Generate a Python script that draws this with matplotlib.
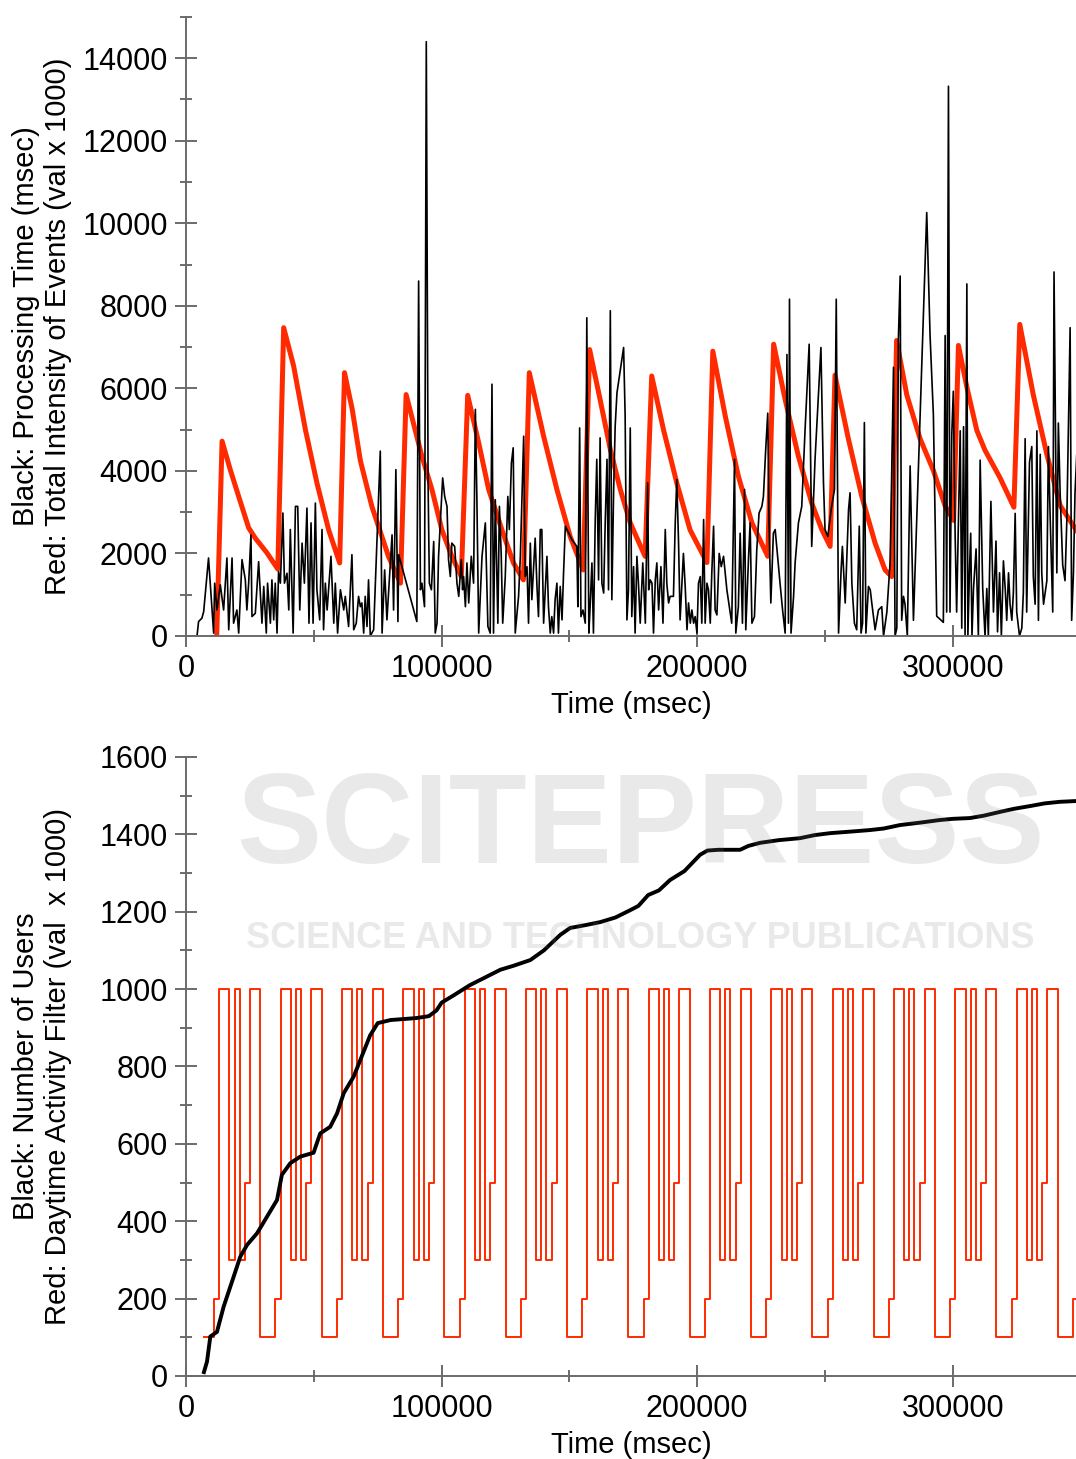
import numpy as np
import matplotlib.pyplot as plt
from matplotlib.ticker import MultipleLocator

plt.rcParams['font.family'] = ['Liberation Sans', 'DejaVu Sans']

# ---- top chart: processing time (black) and intensity of events (red) ----
proc_time = [
    0, 4300, 4900, 6200, 6900, 8800, 10800, 11200, 12100, 13400,
    14700, 16000, 16700, 18000, 18600, 19900, 20600, 21900, 23200, 23800,
    24500, 25400, 25800, 27100, 28400, 29700, 30400, 31400, 31900, 33000,
    33600, 34300, 34900, 35600, 36200, 36900, 37900, 38500, 39500, 40200,
    40800, 41900, 42800, 43700, 44500, 45400, 46300, 47300, 48100, 48900,
    49700, 50600, 51200, 52300, 53200, 53800, 54500, 55200, 56700, 57800,
    58400, 59300, 60400, 61700, 62300, 63600, 64900, 65600, 66600, 67500,
    68200, 68800, 69500, 70100, 70800, 71400, 72100, 73400, 76000, 76700,
    77700, 78600, 79300, 80600, 81200, 82100, 82900, 83200, 90300, 91000,
    91700, 92300, 93300, 94000, 94700, 95200, 96000, 96900, 97500, 98200,
    98800, 99500, 100400, 101200, 102100, 102700, 103400, 104000, 105100, 106000,
    106700, 107700, 108200, 108600, 109300, 109900, 110600, 111600, 112500, 113200,
    113800, 114500, 115800, 117100, 118100, 119000, 119700, 120300, 121000, 122000,
    122600, 123300, 123900, 124900, 125900, 126500, 127300, 128000, 128800, 130100,
    130800, 132100, 132700, 133400, 134000, 134700, 135300, 136600, 137300, 137900,
    138600, 139200, 139900, 140500, 141200, 141800, 142500, 143100, 143800, 144400,
    145100, 145700, 146400, 147100, 147700, 148400, 151000, 152900, 153300, 154000,
    154500, 155300, 156200, 156800, 157600, 158100, 158800, 159400, 160100, 160700,
    161400, 162000, 162700, 163400, 164000, 164700, 165300, 166000, 166600, 167300,
    167900, 168600, 171200, 171800, 172500, 173100, 173800, 174400, 175100, 175700,
    176400, 177000, 177700, 178700, 179700, 180600, 181000, 181600, 182300, 182900,
    183600, 184200, 184900, 185800, 186600, 187500, 188100, 188800, 189400, 190700,
    191400, 192000, 192700, 193300, 194600, 195300, 196000, 196600, 197300, 197900,
    198600, 199200, 199900, 200500, 201200, 201800, 202500, 203100, 203800, 204400,
    205100, 205700, 206400, 207000, 207700, 208600, 209400, 210300, 211600, 213500,
    214600, 215100, 216100, 216800, 217700, 218500, 219000, 220100, 220700, 221400,
    222400, 223300, 224200, 225300, 225900, 226800, 227600, 228100, 228800, 229800,
    230500, 232400, 233400, 234400, 235100, 235700, 236100, 236700, 237700, 238300,
    239600, 240900, 242200, 243800, 244800, 246100, 248400, 249400, 250000, 251100,
    252400, 253700, 254400, 255300, 256300, 256800, 257900, 259200, 259800, 260500,
    261500, 262400, 263400, 264100, 264700, 265400, 266000, 267000, 267700, 268300,
    269600, 270900, 272200, 272900, 274200, 275500, 276800, 277400, 278100, 278700,
    279400, 280000, 280700, 281300, 282200, 283300, 284600, 289800, 291100, 292400,
    293700, 296300, 297000, 297600, 298300, 298900, 299600, 300200, 300900, 301500,
    302900, 303500, 304200, 304800, 305500, 305900, 306500, 307000, 307500, 308100,
    309100, 310000, 310700, 311700, 312600, 313300, 313900, 314900, 315900, 316900,
    317500, 318300, 319000, 319800, 320500, 321100, 321800, 322400, 323100, 323700,
    324400, 325000, 326100, 327000, 327600, 328300, 328900, 330000, 330900, 331500,
    332200, 332900, 333500, 334200, 334800, 335500, 336800, 337400, 338100, 339100,
    339600, 340700, 341300, 342000, 343000, 343900, 344600, 345900, 346500, 347200,
    347800, 348500, 350000,
]
proc_msec = [
    0, 0, 350, 430, 590, 1890, 70, 1280, 630, 1240,
    630, 1890, 150, 1890, 310, 630, 70, 1850, 1360, 630,
    1280, 2450, 470, 550, 1800, 310, 1200, 70, 1280, 310,
    1360, 390, 1280, 70, 1560, 1280, 2980, 1280, 1520, 630,
    2580, 70, 3140, 3140, 630, 2250, 1280, 3100, 310, 2740,
    310, 3220, 1120, 390, 2580, 150, 1280, 630, 1930, 310,
    1280, 70, 1120, 630, 960, 230, 1970, 150, 310, 960,
    710, 800, 70, 960, 230, 1360, 0, 150, 4480, 70,
    1600, 390, 1120, 2450, 630, 4030, 350, 1970, 350, 8600,
    1120, 1280, 710, 14400, 3700, 1280, 1120, 2290, 70, 310,
    1930, 2740, 3830, 3380, 3140, 1850, 1440, 2250, 2170, 1280,
    960, 1850, 1120, 1440, 710, 1770, 800, 1930, 1280, 5490,
    3300, 70, 1930, 2740, 230, 70, 6100, 70, 3300, 310,
    3140, 2000, 310, 1440, 3380, 2580, 4190, 4560, 70, 960,
    1930, 4840, 1440, 1680, 310, 2250, 880, 2370, 1200, 470,
    2580, 2580, 310, 1040, 1930, 710, 70, 470, 70, 880,
    1280, 70, 1200, 390, 1520, 2660, 2330, 2170, 710, 5040,
    470, 630, 310, 7710, 70, 710, 1770, 70, 2820, 4280,
    1360, 4800, 1280, 1040, 2740, 4280, 1120, 7880, 880, 3550,
    5080, 5890, 6990, 5330, 390, 1120, 5040, 470, 1680, 70,
    1930, 1280, 310, 1770, 310, 3710, 1120, 1360, 1280, 70,
    1360, 1770, 630, 1680, 310, 2580, 1280, 800, 960, 960,
    2740, 3790, 2250, 390, 2000, 1200, 150, 800, 310, 630,
    310, 470, 70, 1280, 1440, 310, 2820, 310, 1280, 1120,
    310, 1520, 2660, 630, 510, 2000, 1680, 1930, 1120, 310,
    4280, 70, 710, 2490, 310, 3550, 150, 1930, 2740, 310,
    470, 2090, 2980, 3140, 3380, 4520, 5400, 2740, 800, 2490,
    2580, 1280, 630, 70, 6820, 310, 8160, 70, 960, 1770,
    2740, 3140, 5000, 7070, 2170, 4280, 6990, 3710, 2580, 2410,
    3060, 3550, 8160, 70, 1600, 2170, 800, 3060, 3470, 1280,
    310, 150, 2660, 70, 310, 5170, 70, 1200, 1120, 800,
    150, 630, 710, 0, 580, 1820, 6510, 0, 190, 7180,
    8720, 380, 960, 770, 0, 4120, 380, 10260, 7280, 5360,
    480, 330, 7280, 580, 13320, 580, 4880, 5930, 2490, 580,
    4970, 190, 5070, 0, 8530, 0, 1530, 2490, 0, 1150,
    2110, 0, 4260, 1150, 0, 1150, 0, 3260, 580, 2300,
    100, 1530, 0, 1820, 1150, 380, 1530, 770, 380, 1050,
    2970, 580, 0, 190, 1050, 4780, 580, 4210, 4590, 1440,
    770, 4970, 380, 4400, 1530, 770, 1340, 4590, 2870, 580,
    8820, 1530, 5160, 3450, 1720, 1340, 2780, 7470, 380, 1530,
    3450, 4400, 2000,
]

intensity_time = [
    12000, 14100, 17300, 20600, 24500, 27100, 31700, 35900,
    38200, 42100, 46700, 51200, 55800, 60100,
    62000, 65000, 68200, 72700, 79200, 83900,
    86100, 92300, 96200, 100100, 104000, 107700,
    110200, 114500, 118400, 123600, 128100, 132000,
    134300, 139900, 145100, 150300, 155400,
    157900, 162000, 166000, 169900, 173800, 179600,
    182200, 186800, 192000, 197200, 203800,
    206100, 211000, 216100, 221400, 227600,
    229900, 234400, 239600, 244800, 248800, 252000,
    253900, 259200, 264400, 269600, 273500, 276100,
    278000, 282000, 287200, 292400, 297000, 300300,
    302200, 305500, 309400, 312600, 318500, 323900,
    326200, 331500, 336800, 342000, 348500,
]
intensity_val = [
    0, 4720, 4030, 3380, 2620, 2370, 2010, 1620,
    7470, 6540, 5000, 3710, 2570, 1770,
    6380, 5500, 4250, 3140, 1930, 1280,
    5850, 4350, 3550, 2570, 1930, 1440,
    5830, 4680, 3550, 2570, 1770, 1360,
    6380, 4840, 3550, 2410, 1600,
    6940, 5730, 4520, 3550, 2740, 1930,
    6300, 5000, 3710, 2570, 1780,
    6900, 5320, 3870, 2740, 1930,
    7070, 5730, 4350, 3220, 2570, 2170,
    6320, 4760, 3380, 2250, 1600, 1440,
    7160, 5840, 4780, 4010, 3150, 2800,
    7040, 6030, 4980, 4500, 3830, 3120,
    7550, 5840, 4400, 3160, 2550,
]

# ---- bottom chart: number of users (black) and daytime filter (red) ----
users_time = [
    7000, 8200, 9500, 12100, 14700, 18600, 21200, 23900, 27800, 31700,
    35600, 37500, 40800, 44700, 49900, 52500, 56400, 59100, 61700, 65600,
    68200, 72000, 75000, 80000, 90000, 95000, 98000, 100000, 105000, 111000,
    117000, 123000, 128000, 134700, 140000, 146400, 150300, 156000, 162000, 168000,
    173800, 177000, 180800, 185000, 189400, 195000, 201100, 204000, 208200, 216800,
    220000, 224600, 232000, 240200, 246000, 252000, 260000, 267600, 273000, 279400,
    287000, 295000, 300000, 306700, 312000, 318500, 324000, 330200, 336000, 341900,
    348200,
]
users = [
    10, 37, 102, 114, 179, 256, 308, 339, 369, 412,
    455, 520, 550, 567, 577, 627, 644, 679, 731, 774,
    817, 880, 912, 920, 925, 930, 945, 965, 985, 1010,
    1030, 1050, 1060, 1075, 1100, 1140, 1158, 1165, 1173, 1185,
    1204, 1215, 1243, 1255, 1282, 1305, 1347, 1358, 1360, 1360,
    1370, 1378, 1385, 1390, 1398, 1403, 1407, 1411, 1415, 1424,
    1430, 1437, 1440, 1442, 1448, 1458, 1466, 1473, 1480, 1484,
    1486,
]

# hourly daytime activity filter (val x 1000), one simulated hour = 1000 msec
filter_by_hour = [500, 1000, 1000, 1000, 1000, 100, 100, 100, 100, 100, 100, 200,
                  200, 1000, 1000, 1000, 1000, 300, 300, 1000, 1000, 300, 300, 500]
filter_first_hour = 7
filter_last_hour = 350

hours = np.arange(filter_first_hour, filter_last_hour + 1)
filter_time = hours * 1000
filter_val = [filter_by_hour[h % 24] for h in hours]

BLACK = '#000000'
RED = '#ff2a00'
AXC = '#6b6b6b'


def style_axes(ax, ymax, ymajor, yminor):
    ax.set_facecolor('none')
    for s in ['top', 'right']:
        ax.spines[s].set_visible(False)
    for s in ['left', 'bottom']:
        ax.spines[s].set_color(AXC)
        ax.spines[s].set_linewidth(1.4)
    ax.set_xlim(0, 348200)
    ax.set_ylim(0, ymax)
    ax.xaxis.set_major_locator(MultipleLocator(100000))
    ax.xaxis.set_minor_locator(MultipleLocator(50000))
    ax.yaxis.set_major_locator(MultipleLocator(ymajor))
    ax.yaxis.set_minor_locator(MultipleLocator(yminor))
    ax.tick_params(which='major', direction='inout', length=16, width=1.4,
                   color=AXC, labelsize=22, pad=5)
    ax.tick_params(which='minor', direction='inout', length=9, width=1.4, color=AXC)
    ax.set_xlabel('Time (msec)', fontsize=21, labelpad=5)


fig = plt.figure(figsize=(10.76, 14.59), dpi=100)

# faint publisher watermark across the middle of the page (kept clear of the tick labels)
fig.text(0.595, 0.431, 'SCITEPRESS', fontsize=92, fontweight='bold',
         color='#808080', alpha=0.17, ha='center', va='center', zorder=10)
fig.text(0.595, 0.357, 'SCIENCE AND TECHNOLOGY PUBLICATIONS', fontsize=26,
         fontweight='bold', color='#808080', alpha=0.17, ha='center', va='center',
         zorder=10)

ax1 = fig.add_axes([0.1729, 0.5641, 0.8271, 0.4243])
ax1.plot(intensity_time, intensity_val, color=RED, lw=3.6, solid_joinstyle='round')
ax1.plot(proc_time, proc_msec, color=BLACK, lw=1.2)
style_axes(ax1, 15000, 2000, 1000)
ax1.set_ylabel('Black: Processing Time (msec)\nRed: Total Intensity of Events (val x 1000)',
               fontsize=21)
ax1.yaxis.set_label_coords(-0.128, 0.5)

ax2 = fig.add_axes([0.1729, 0.0569, 0.8271, 0.4243])
ax2.plot(filter_time, filter_val, color=RED, lw=1.4, drawstyle='steps-post')
ax2.plot(users_time, users, color=BLACK, lw=2.8)
style_axes(ax2, 1600, 200, 100)
ax2.set_ylabel('Black: Number of Users\nRed: Daytime Activity Filter (val  x 1000)',
               fontsize=21)
ax2.yaxis.set_label_coords(-0.128, 0.5)

fig.savefig('out.png', dpi=100)
